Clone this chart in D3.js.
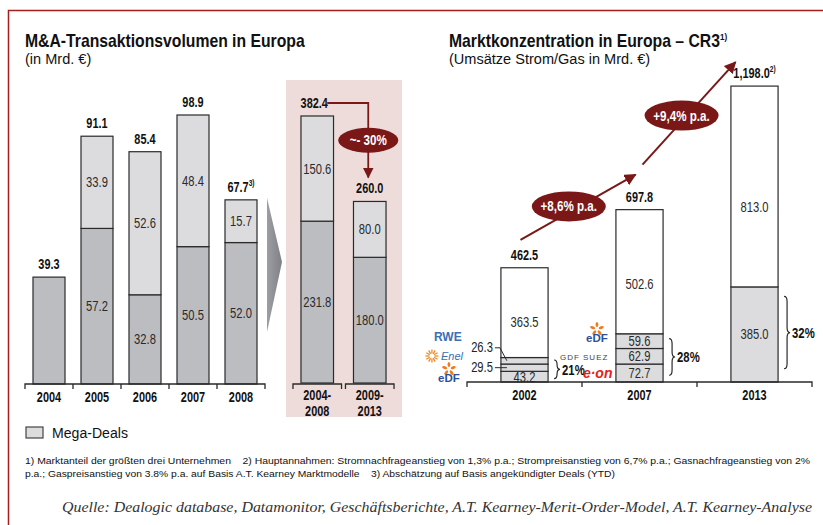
<!DOCTYPE html>
<html>
<head>
<meta charset="utf-8">
<script src="https://cdn.jsdelivr.net/npm/d3@7"></script>
<style>
    body { margin: 0; background: #fff; }
    text { font-family: 'Liberation Sans', Arial, Helvetica, sans-serif; fill: #111; }
</style>
</head>
<body>
<div id="chart"></div>
<script>

// ---- data: M&A volume (left) ----
const years = ["2004", "2005", "2006", "2007", "2008"];
const baseDeals = [39.3, 57.2, 32.8, 50.5, 52.0];
const megaDeals = [0, 33.9, 52.6, 48.4, 15.7];
const totalNotes = ["", "", "", "", "3)"];

const periods = ["2004-2008", "2009-2013"];
const periodBase = [231.8, 180.0];
const periodMega = [150.6, 80.0];
const periodChange = "~- 30%";

// ---- data: CR3 market concentration (right) ----
const crYears = ["2002", "2007", "2013"];
const crTop3 = [[43.2, 29.5, 26.3], [72.7, 62.9, 59.6], [385.0]];
const crRest = [363.5, 502.6, 813.0];
const crShare = ["21%", "28%", "32%"];
const crNotes = ["", "", "2)"];
const growthLabels = ["+8,6% p.a.", "+9,4% p.a."];

const footnotes = [
    "1) Marktanteil der größten drei Unternehmen    2) Hauptannahmen: Stromnachfrageanstieg von 1,3% p.a.; Strompreisanstieg von 6,7% p.a.; Gasnachfrageanstieg von 2%",
    "p.a.; Gaspreisanstieg von 3.8% p.a. auf Basis A.T. Kearney Marktmodelle    3) Abschätzung auf Basis angekündigter Deals (YTD)"
];
const source = "Quelle: Dealogic database, Datamonitor, Geschäftsberichte, A.T. Kearney-Merit-Order-Model, A.T. Kearney-Analyse";

const DARK = "#bcbdc1", LIGHT = "#dcdcdf", LINE = "#2a2a2a", RED = "#7a1818";
const f1 = d3.format(".1f"), fc = d3.format(",.1f");

// squeeze text horizontally around its x (no condensed face installed)
function sq(sel, s) {
    sel.each(function () {
        let x = +this.getAttribute("x") || 0;
        d3.select(this).attr("transform", `translate(${x},0) scale(${s},1) translate(${-x},0)`);
    });
}

const svg = d3.select("#chart").append("svg")
    .attr("width", 823)
    .attr("height", 525);

const defs = svg.append("defs");
defs.append("marker")
    .attr("id", "head")
    .attr("viewBox", "0 0 10 10")
    .attr("refX", 9).attr("refY", 5)
    .attr("markerWidth", 6).attr("markerHeight", 6)
    .attr("orient", "auto")
    .append("path").attr("d", "M0,0L10,5L0,10Z").attr("fill", RED);

let grad = defs.append("linearGradient").attr("id", "chev").attr("x1", 0).attr("x2", 1);
grad.append("stop").attr("offset", 0).attr("stop-color", "#9c9ea3");
grad.append("stop").attr("offset", 1).attr("stop-color", "#7f8187");

// frame
svg.append("rect")
    .attr("x", 8.5).attr("y", 10.5).attr("width", 830).attr("height", 530)
    .attr("fill", "none").attr("stroke", "#a61e1e").attr("stroke-width", 1.5);

// draws a stacked bar, values bottom -> top
function drawStack(g, x0, w, y, values, fills) {
    let acc = 0;
    return values.map((v, i) => {
        let y0 = y(acc), y1 = y(acc + v);
        acc += v;
        g.append("rect")
            .attr("x", x0).attr("y", y1)
            .attr("width", w).attr("height", y0 - y1)
            .attr("fill", fills[i])
            .attr("stroke", LINE).attr("stroke-width", 1.2);
        return {top: y1, bottom: y0, mid: (y0 + y1) / 2, value: v};
    });
}

function numLabel(g, x, y, str, bold) {
    let t = g.append("text").attr("x", x).attr("y", y)
        .attr("text-anchor", "middle")
        .style("font-size", "14px")
        .style("font-weight", bold ? "bold" : "normal")
        .style("fill", bold ? "#111" : "#2a2a2a")
        .text(str);
    t.call(sq, bold ? 0.78 : 0.8);
    return t;
}

// baseline with ticks at the band edges
function bracketAxis(g, x, y0) {
    let half = x.step() * x.paddingInner() / 2;
    let edges = x.domain().map(d => x(d) - half);
    edges.push(x(x.domain()[x.domain().length - 1]) + x.bandwidth() + half);
    let d = `M${edges[0]},${y0 + 5}V${y0}H${edges[edges.length - 1]}V${y0 + 5}`;
    edges.slice(1, -1).forEach(e => d += `M${e},${y0}V${y0 + 5}`);
    g.append("path").attr("d", d).attr("fill", "none").attr("stroke", LINE).attr("stroke-width", 1.3);
}

function yearLabels(g, x, y0) {
    g.append("g")
        .attr("transform", `translate(0,${y0})`)
        .call(d3.axisBottom(x).tickSize(0).tickPadding(8))
        .call(a => a.select(".domain").remove())
        .selectAll("text")
        .style("font-size", "14px").style("font-weight", "bold")
        .call(sq, 0.78);
}

function curlyBrace(g, x, y0, y1, w) {
    let m = (y0 + y1) / 2, r = Math.min(5, (y1 - y0) / 4), h = x + w / 2;
    g.append("path")
        .attr("d", `M${x},${y0}Q${h},${y0} ${h},${y0 + r}L${h},${m - r}Q${h},${m} ${x + w},${m}` +
                   `Q${h},${m} ${h},${m + r}L${h},${y1 - r}Q${h},${y1} ${x},${y1}`)
        .attr("fill", "none").attr("stroke", LINE).attr("stroke-width", 1.2);
}

function badge(g, cx, cy, rx, ry, label) {
    g.append("ellipse").attr("cx", cx).attr("cy", cy).attr("rx", rx).attr("ry", ry).attr("fill", RED);
    g.append("text").attr("x", cx).attr("y", cy + 5)
        .attr("text-anchor", "middle")
        .style("font-size", "14.5px").style("font-weight", "bold").style("fill", "#fff")
        .text(label)
        .call(sq, 0.8);
}

/* * * * * left chart * * * * */
let gL = svg.append("g");

gL.append("text").attr("x", 25).attr("y", 47)
    .style("font-size", "17.5px").style("font-weight", "bold")
    .text("M&A-Transaktionsvolumen in Europa")
    .call(sq, 0.9);
gL.append("text").attr("x", 25).attr("y", 64)
    .style("font-size", "15px")
    .text("(in Mrd. €)")
    .call(sq, 0.97);

// pink panel + chevron
gL.append("rect").attr("x", 286).attr("y", 80).attr("width", 116).attr("height", 337).attr("fill", "#eedcda");
gL.append("path").attr("d", "M267,198L282,262L267,332Z").attr("fill", "url(#chev)");

let xL = d3.scaleBand().domain(years).range([25, 265]).paddingInner(1 / 3).paddingOuter(1 / 6);
let yL = d3.scaleLinear().domain([0, 100]).range([384, 112]);

years.forEach((yr, i) => {
    let segs = drawStack(gL, xL(yr), xL.bandwidth(), yL, [baseDeals[i], megaDeals[i]], [DARK, LIGHT]);
    let cx = xL(yr) + xL.bandwidth() / 2;
    if (megaDeals[i] > 0) {
        segs.forEach(s => numLabel(gL, cx, s.mid + 5, f1(s.value), false));
    }
    let total = numLabel(gL, cx, yL(baseDeals[i] + megaDeals[i]) - 8, f1(baseDeals[i] + megaDeals[i]), true);
    if (totalNotes[i]) total.append("tspan").attr("dy", -6).style("font-size", "8.5px").text(totalNotes[i]);
});
bracketAxis(gL, xL, 384);
yearLabels(gL, xL, 384);

// period comparison
let xP = d3.scaleBand().domain(periods).range([291, 396]).paddingInner(0.38).paddingOuter(0.19);
let yP = d3.scaleLinear().domain([0, 400]).range([383, 103.7]);
let pTops = [];

periods.forEach((p, i) => {
    let segs = drawStack(gL, xP(p), xP.bandwidth(), yP, [periodBase[i], periodMega[i]], [DARK, LIGHT]);
    let cx = xP(p) + xP.bandwidth() / 2;
    segs.forEach(s => numLabel(gL, cx, s.mid + 5, f1(s.value), false));
    let top = yP(periodBase[i] + periodMega[i]);
    pTops.push(top);
    numLabel(gL, cx - (i === 0 ? 3 : 0), top - 8, f1(periodBase[i] + periodMega[i]), true);

    // bracket + two-line label
    let x0 = xP(p) - 8, x1 = xP(p) + xP.bandwidth() + 8;
    gL.append("path").attr("d", `M${x0},389V384H${x1}V389`)
        .attr("fill", "none").attr("stroke", LINE).attr("stroke-width", 1.3);
    let parts = p.split("-");
    let t = gL.append("text").attr("x", cx).attr("y", 400)
        .attr("text-anchor", "middle")
        .style("font-size", "14px").style("font-weight", "bold");
    t.append("tspan").attr("x", cx).text(parts[0] + "-");
    t.append("tspan").attr("x", cx).attr("dy", 16).text(parts[1]);
    t.call(sq, 0.78);
});

// connector with change badge
let c0 = xP(periods[0]) + xP.bandwidth() / 2, c1 = xP(periods[1]) + xP.bandwidth() / 2;
let yTop = pTops[0] - 13, vx = c1 - 1.5;
gL.append("path")
    .attr("d", `M${c0 + 10},${yTop}H${vx}V${pTops[1] - 24}`)
    .attr("fill", "none").attr("stroke", RED).attr("stroke-width", 1.8)
    .attr("marker-end", "url(#head)");
badge(gL, vx, (yTop + pTops[1] - 24) / 2, 30, 12.5, periodChange);

// legend
gL.append("rect").attr("x", 26).attr("y", 427).attr("width", 17).attr("height", 11)
    .attr("fill", LIGHT).attr("stroke", "#444").attr("stroke-width", 1.2);
gL.append("text").attr("x", 52).attr("y", 438).style("font-size", "15px").text("Mega-Deals").call(sq, 0.94);

/* * * * * right chart * * * * */
let gR = svg.append("g");

let title = gR.append("text").attr("x", 449).attr("y", 47)
    .style("font-size", "17.5px").style("font-weight", "bold")
    .text("Marktkonzentration in Europa – CR3");
title.append("tspan").attr("dy", -7).style("font-size", "9px").text("1)");
title.call(sq, 0.9);
gR.append("text").attr("x", 449).attr("y", 64)
    .style("font-size", "15px")
    .text("(Umsätze Strom/Gas in Mrd. €)")
    .call(sq, 0.97);

let xR = d3.scaleBand().domain(crYears).range([467, 812]).paddingInner(0.59).paddingOuter(0.295);
let yR = d3.scaleLinear().domain([0, 1200]).range([382, 85.6]);
let centers = [], tops = [];

crYears.forEach((yr, i) => {
    let vals = crTop3[i].concat([crRest[i]]);
    let fills = crTop3[i].map(() => LIGHT).concat(["#fff"]);
    let x0 = xR(yr), bw = xR.bandwidth(), cx = x0 + bw / 2;
    let segs = drawStack(gR, x0, bw, yR, vals, fills);
    centers.push(cx);

    let outside = 0;
    segs.forEach((s, k) => {
        let last = k === segs.length - 1;
        if (!last && s.bottom - s.top < 9) {
            // thin segment: label on the left with a leader
            let ty = s.mid + 4 - outside * 13;
            gR.append("text").attr("x", x0 - 8).attr("y", ty)
                .attr("text-anchor", "end")
                .style("font-size", "14px").style("fill", "#222")
                .text(f1(s.value))
                .call(sq, 0.8);
            gR.append("path")
                .attr("d", `M${x0 - 6},${ty - 4}L${x0 - 1},${ty - 4}L${x0 + 6},${s.mid}`)
                .attr("fill", "none").attr("stroke", LINE).attr("stroke-width", 1);
            outside++;
            return;
        }
        let ly = last ? s.top + (s.bottom - s.top) * 0.6 + 5 : s.mid + 5;
        numLabel(gR, cx, ly, f1(s.value), false);
    });

    let total = d3.sum(vals);
    let top = yR(total);
    tops.push(top);
    let tl = numLabel(gR, cx, top - 8, total >= 1000 ? fc(total) : f1(total), true);
    if (crNotes[i]) tl.append("tspan").attr("dy", -6).style("font-size", "8.5px").text(crNotes[i]);

    // share brace
    let bTop = yR(d3.sum(crTop3[i])), bBot = yR(0), h = bBot - bTop;
    let b0 = bTop + 0.1 * h, b1 = bBot - 0.14 * h;
    curlyBrace(gR, x0 + bw + 6, b0, b1, 6);
    gR.append("text").attr("x", x0 + bw + 14).attr("y", (b0 + b1) / 2 + 5.5)
        .style("font-size", "15.5px").style("font-weight", "bold")
        .text(crShare[i])
        .call(sq, 0.73);
});
bracketAxis(gR, xR, 382);
yearLabels(gR, xR, 382);

// growth arrows
let arrows = [
    [centers[0] - 4, tops[0] - 28, centers[1] - 4, tops[1] - 35],
    [centers[1] + 3, tops[1] - 45, centers[2] - 19, tops[2] - 24]
];
arrows.forEach((a, i) => {
    gR.append("line")
        .attr("x1", a[0]).attr("y1", a[1]).attr("x2", a[2]).attr("y2", a[3])
        .attr("stroke", RED).attr("stroke-width", 2)
        .attr("marker-end", "url(#head)");
    let t = 0.42;
    badge(gR, a[0] + (a[2] - a[0]) * t, a[1] + (a[3] - a[1]) * t - 6, 37, 15, growthLabels[i]);
});

// company logos (rough marks)
function edfLogo(g, cx, cy) {
    d3.range(5).forEach(k => {
        g.append("ellipse")
            .attr("cx", 0).attr("cy", -4.5).attr("rx", 1.4).attr("ry", 2.6)
            .attr("fill", "#f07b1e")
            .attr("transform", `translate(${cx},${cy}) rotate(${k * 72})`);
    });
    g.append("text").attr("x", cx).attr("y", cy + 13).attr("text-anchor", "middle")
        .style("font-size", "11.5px").style("font-weight", "bold").style("fill", "#2b4f9a")
        .text("eDF");
}
let gLogo = svg.append("g");
let bx0 = xR(crYears[0]), bx1 = xR(crYears[1]);
gLogo.append("text").attr("x", bx0 - 67).attr("y", 341)
    .style("font-size", "12px").style("font-weight", "bold").style("fill", "#3a6fb5")
    .text("RWE");
d3.range(12).forEach(k => {
    let a = k * Math.PI / 6;
    gLogo.append("line")
        .attr("x1", bx0 - 69 + 2.5 * Math.cos(a)).attr("y1", 356 + 2.5 * Math.sin(a))
        .attr("x2", bx0 - 69 + 6.5 * Math.cos(a)).attr("y2", 356 + 6.5 * Math.sin(a))
        .attr("stroke", "#f08a24").attr("stroke-width", 1.3);
});
gLogo.append("text").attr("x", bx0 - 60).attr("y", 360)
    .style("font-size", "11px").style("font-style", "italic").style("fill", "#3a6fb5")
    .text("Enel");
edfLogo(gLogo, bx0 - 52, 369);
edfLogo(gLogo, bx1 - 19, 329);
gLogo.append("text").attr("x", bx1 - 56).attr("y", 360)
    .style("font-size", "8px").style("letter-spacing", "1px").style("fill", "#444")
    .text("GDF SUEZ");
gLogo.append("text").attr("x", bx1 - 33).attr("y", 378)
    .style("font-size", "14px").style("font-weight", "bold").style("font-style", "italic").style("fill", "#e2231a")
    .text("e·on");

/* * * * * notes * * * * */
let notes = svg.append("g");
footnotes.forEach((line, i) => {
    notes.append("text").attr("x", 25).attr("y", 464 + i * 13)
        .attr("textLength", i === 0 ? 785 : 590).attr("lengthAdjust", "spacingAndGlyphs")
        .style("font-size", "9.5px").style("white-space", "pre")
        .text(line);
});
notes.append("text").attr("x", 62).attr("y", 512)
    .attr("textLength", 750).attr("lengthAdjust", "spacingAndGlyphs")
    .style("font-family", "'Liberation Serif', serif").style("font-style", "italic")
    .style("font-size", "15.5px").style("fill", "#333")
    .text(source);

</script>
</body>
</html>
